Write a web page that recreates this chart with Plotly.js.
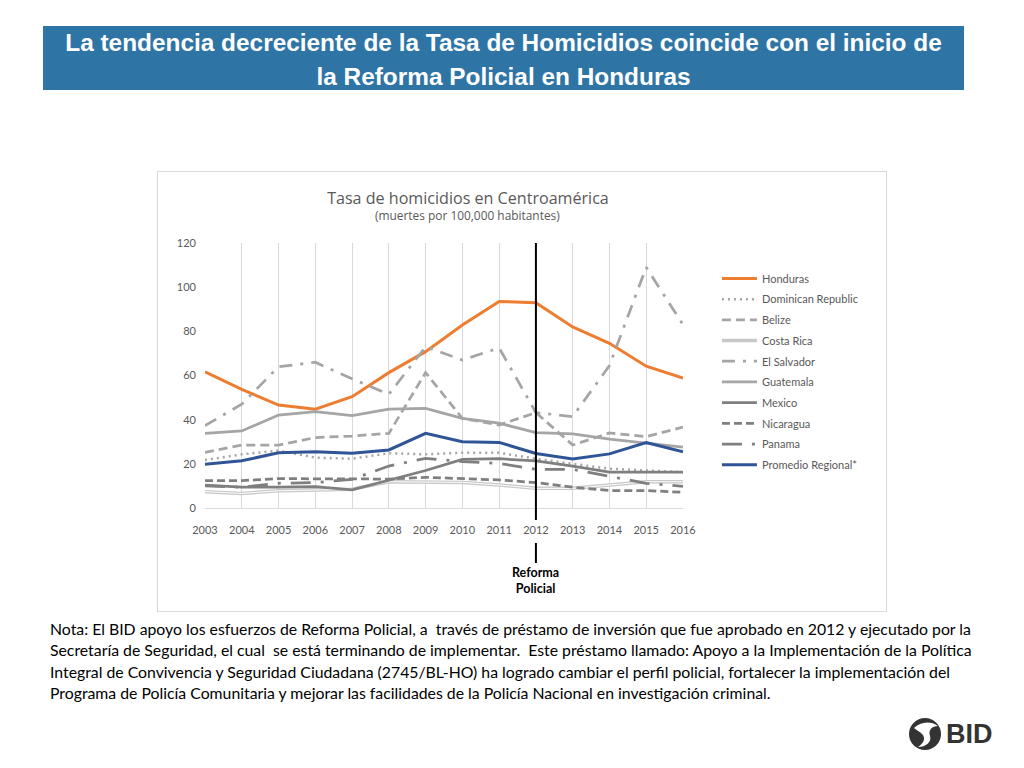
<!DOCTYPE html>
<html>
<head>
<meta charset="utf-8">
<script src="https://cdn.plot.ly/plotly-3.0.1.min.js"></script>
<style>
  html, body { margin:0; padding:0; background:#fff; }
  body { width:1024px; height:768px; position:relative; overflow:hidden; }
  #banner { position:absolute; left:43px; top:26px; width:921px; height:64px; background:#2E75A6;
    color:#fff; font-family:'Liberation Sans', Arial, sans-serif; font-weight:bold; font-size:24.4px;
    line-height:34px; text-align:center; }
  #frame { position:absolute; left:157px; top:171px; width:728px; height:439px; border:1px solid #D9D9D9; }
  #chart { width:728px; height:439px; }
  #note { position:absolute; left:50px; top:618px; width:970px; font-family:Lato, 'Noto Sans', sans-serif;
    font-size:15.8px; line-height:21.3px; color:#000; white-space:pre; }
  #logo { position:absolute; left:906px; top:714px; width:100px; height:40px; }
  #logo span { position:absolute; left:40px; top:5px; font-family:'Liberation Sans', Arial, sans-serif;
    font-weight:bold; font-size:27px; color:#333; }
</style>
</head>
<body>
<div id="banner">La tendencia decreciente de la Tasa de Homicidios coincide con el inicio de<br>la Reforma Policial en Honduras</div>
<div id="frame"><div id="chart"></div></div>
<div id="note">Nota: El BID apoyo los esfuerzos de Reforma Policial, a  través de préstamo de inversión que fue aprobado en 2012 y ejecutado por la
Secretaría de Seguridad, el cual  se está terminando de implementar.  Este préstamo llamado: Apoyo a la Implementación de la Política
Integral de Convivencia y Seguridad Ciudadana (2745/BL-HO) ha logrado cambiar el perfil policial, fortalecer la implementación del
Programa de Policía Comunitaria y mejorar las facilidades de la Policía Nacional en investigación criminal.</div>
<div id="logo">
  <svg width="40" height="40" viewBox="0 0 40 40">
    <circle cx="19" cy="20" r="16" fill="#333"/>
    <path d="M8 14 C14 8, 24 6, 32 12 C26 12, 22 16, 24 22 C26 28, 20 33, 12 33 C18 29, 20 24, 16 20 C13 17, 10 16, 8 14 Z" fill="#fff"/>
  </svg>
  <span>BID</span>
</div>
<script>
const years = [2003,2004,2005,2006,2007,2008,2009,2010,2011,2012,2013,2014,2015,2016];
const honduras   = [61.7, 53.7, 46.6, 44.7, 50.4, 61.3, 70.8, 82.9, 93.5, 93.0, 82.0, 74.6, 64.2, 58.8];
const dominican  = [21.7, 24.3, 26.0, 22.8, 22.3, 24.8, 24.3, 25.0, 25.0, 22.3, 20.0, 17.8, 17.0, 16.2];
const belize     = [25.2, 28.5, 28.5, 31.9, 32.6, 33.8, 61.3, 40.6, 37.6, 43.2, 28.5, 34.0, 32.3, 36.6];
const costaRica  = [7.4, 6.6, 7.8, 8.2, 8.5, 11.9, 11.9, 11.6, 10.4, 8.9, 8.9, 10.4, 11.9, 11.9];
const elSalvador = [37.3, 47.0, 64.0, 66.0, 58.5, 51.5, 73.0, 67.0, 72.5, 43.2, 41.4, 64.5, 109.0, 83.0];
const guatemala  = [33.8, 34.9, 42.1, 43.6, 41.8, 44.8, 45.1, 40.6, 38.4, 34.1, 33.6, 31.2, 29.4, 27.6];
const mexico     = [10.4, 9.4, 9.4, 9.7, 8.2, 12.7, 17.0, 22.0, 22.3, 21.3, 19.0, 16.2, 16.2, 16.2];
const nicaragua  = [12.4, 12.4, 13.3, 13.3, 13.0, 13.1, 13.9, 13.4, 12.7, 11.5, 9.4, 7.9, 7.9, 7.1];
const panama     = [10.0, 9.4, 11.2, 11.5, 13.0, 19.0, 22.5, 21.0, 20.2, 17.5, 17.5, 14.5, 11.2, 9.8];
const promedio   = [19.8, 21.4, 25.0, 25.5, 24.8, 26.3, 33.8, 30.0, 29.7, 24.7, 22.2, 24.5, 29.6, 25.5];

const seriesNames = ['Honduras','Dominican Republic','Belize','Costa Rica','El Salvador','Guatemala','Mexico','Nicaragua','Panama','Promedio Regional*'];
const reformYear = 2012;
const yTicks = [0,20,40,60,80,100,120];

function tr(name, y, color, width, dash, group) {
  return {x: years, y: y, name: name, type:'scatter', mode:'lines',
    line:{color: color, width: width, dash: dash}, legendgroup: group, hoverinfo:'x+y+name'};
}
const traces = [
  tr(seriesNames[0], honduras, '#ED7D31', 3, 'solid', 'g0'),
  tr(seriesNames[1], dominican, '#A5A5A5', 2.5, '2px,4px', 'g1'),
  tr(seriesNames[2], belize, '#A5A5A5', 2.75, '9px,5px', 'g2'),
  tr(seriesNames[3], costaRica, '#C8C8C8', 3.5, 'solid', 'g3'),
  Object.assign(tr(seriesNames[3], costaRica, '#FFFFFF', 1, 'solid', 'g3'), {showlegend:false, hoverinfo:'skip'}),
  tr(seriesNames[4], elSalvador, '#A5A5A5', 2.75, '13px,8px,3px,8px', 'g4'),
  tr(seriesNames[5], guatemala, '#A5A5A5', 2.75, 'solid', 'g5'),
  tr(seriesNames[6], mexico, '#7F7F7F', 2.75, 'solid', 'g6'),
  tr(seriesNames[7], nicaragua, '#7F7F7F', 2.75, '8px,4px', 'g7'),
  tr(seriesNames[8], panama, '#7F7F7F', 2.75, '20px,10px,3px,10px', 'g8'),
  tr(seriesNames[9], promedio, '#2F5597', 3, 'solid', 'g9')
];

const layout = {
  width: 728, height: 439,
  margin: {l:47, r:203, t:71, b:103},
  paper_bgcolor:'#fff', plot_bgcolor:'#fff',
  font: {family:'Lato, "Noto Sans", sans-serif', size:11, color:'#595959'},
  title: {text:'Tasa de homicidios en Centroamérica', x:0.4258, xanchor:'center', y:0.9408, yanchor:'middle',
    xref:'container', yref:'container', font:{family:'"Open Sans", Lato, sans-serif', size:16.1, color:'#595959'}},
  xaxis: {range:[2003,2016], tickvals: years, ticktext: years.map(String), showgrid:true, gridcolor:'#D9D9D9', gridwidth:1,
    showline:true, linecolor:'#D9D9D9', linewidth:1, zeroline:false, ticks:'', ticklabelstandoff:12,
    tickfont:{size:11, color:'#595959'}, fixedrange:true},
  yaxis: {range:[0,120], tickvals: yTicks, showgrid:false, zeroline:false, showline:false, ticks:'',
    ticklabelstandoff:8, tickfont:{size:11, color:'#595959'}, fixedrange:true},
  legend: {x:1.071, xanchor:'left', y:0.921, yanchor:'top', font:{size:11, color:'#595959'},
    itemwidth:35, tracegroupgap:1.7, bgcolor:'rgba(0,0,0,0)', traceorder:'grouped'},
  showlegend:true,
  shapes: [
    {type:'line', xref:'x', yref:'paper', x0:reformYear, x1:reformYear, y0:1, y1:-0.045, line:{color:'#000', width:2}},
    {type:'line', xref:'x', yref:'paper', x0:reformYear, x1:reformYear, y0:-0.132, y1:-0.2075, line:{color:'#000', width:2}}
  ],
  annotations: [
    {text:'(muertes por 100,000 habitantes)', xref:'paper', yref:'paper', x:0.5502, y:1.1057, xanchor:'center', yanchor:'middle',
      showarrow:false, font:{family:'"Open Sans", Lato, sans-serif', size:11.9, color:'#595959'}},
    {text:'<b>Reforma<br>Policial</b>', xref:'x', yref:'paper', x:reformYear, y:-0.2736, xanchor:'center', yanchor:'middle',
      showarrow:false, align:'center', font:{family:'Lato, sans-serif', size:12.5, color:'#000'}}
  ]
};
Plotly.newPlot('chart', traces, layout, {displayModeBar:false, staticPlot:true});
</script>
</body>
</html>
